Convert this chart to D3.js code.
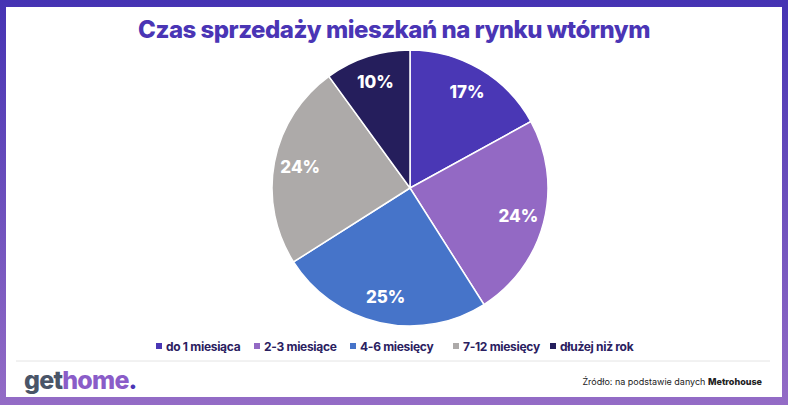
<!DOCTYPE html><html><head><meta charset="utf-8">
<script src="https://cdn.jsdelivr.net/npm/d3@7"></script>
<style>body{margin:0}svg{display:block}</style></head><body>
<svg id="c" width="788" height="405"></svg>
<script>
const categories=["do 1 miesiąca","2-3 miesiące","4-6 miesięcy","7-12 miesięcy","dłużej niż rok"];
const values=[17,24,25,24,10];
const colors=["#4a37b5","#9369c4","#4674c9","#adaaa9","#251e5c"];
const svg=d3.select("#c");
const defs=svg.append("defs");
const g=defs.append("linearGradient").attr("id","bg").attr("x1",0).attr("y1",0).attr("x2",0).attr("y2",1);
g.append("stop").attr("offset","0").attr("stop-color","#4533b3");
g.append("stop").attr("offset","1").attr("stop-color","#946cc6");
svg.append("rect").attr("width",788).attr("height",405).attr("fill","url(#bg)");
svg.append("rect").attr("x",6).attr("y",7).attr("width",776).attr("height",390).attr("fill","#fff");
svg.append("text").attr("x",394).attr("y",38).attr("text-anchor","middle").attr("font-family","Inter, sans-serif").attr("font-weight",800).attr("font-size",24).attr("fill","#4a35b5").attr("letter-spacing",-0.5).text("Czas sprzedaży mieszkań na rynku wtórnym");
const cx=410,cy=188,r=138;
const pie=d3.pie().sort(null)(values);
const arc=d3.arc().innerRadius(0).outerRadius(r);
const la=d3.arc().innerRadius(r*0.81).outerRadius(r*0.81);
const pg=svg.append("g").attr("transform",`translate(${cx},${cy})`);
pg.selectAll("path").data(pie).join("path").attr("d",arc).attr("fill",(d,i)=>colors[i]).attr("stroke","#fff").attr("stroke-width",1.5);
pg.selectAll("text").data(pie).join("text").attr("transform",d=>`translate(${la.centroid(d)})`).attr("text-anchor","middle").attr("dy","0.35em").attr("font-family","Inter, sans-serif").attr("font-weight",800).attr("font-size",17).attr("fill","#fff").text(d=>d.data+"%");
const lg=svg.append("g").attr("font-family","Inter, sans-serif").attr("font-weight",700).attr("font-size",12).attr("fill","#2a2060");
const lx=[156,254,350,453,550];
categories.forEach((c,i)=>{
 lg.append("rect").attr("x",lx[i]).attr("y",343).attr("width",6).attr("height",6).attr("fill",colors[i]);
 lg.append("text").attr("x",lx[i]+10).attr("y",351).attr("letter-spacing",-0.3).text(c);
});
svg.append("line").attr("x1",16).attr("x2",770).attr("y1",361).attr("y2",361).attr("stroke","#e4e4e4").attr("stroke-width",1);
const logo=svg.append("text").attr("x",24).attr("y",389).attr("font-family","Inter, sans-serif").attr("font-weight",800).attr("font-size",25).attr("letter-spacing",-0.8);
logo.append("tspan").attr("fill","#4a5568").text("get");
logo.append("tspan").attr("fill","#8a5cc8").text("home");
logo.append("tspan").attr("fill","#4a35b5").text(".");
const s=svg.append("text").attr("x",762).attr("y",385).attr("text-anchor","end").attr("font-family","Inter, sans-serif").attr("font-size",9).attr("fill","#222");
s.append("tspan").text("Źródło: na podstawie danych ");
s.append("tspan").attr("font-weight",800).text("Metrohouse");
</script></body></html>
